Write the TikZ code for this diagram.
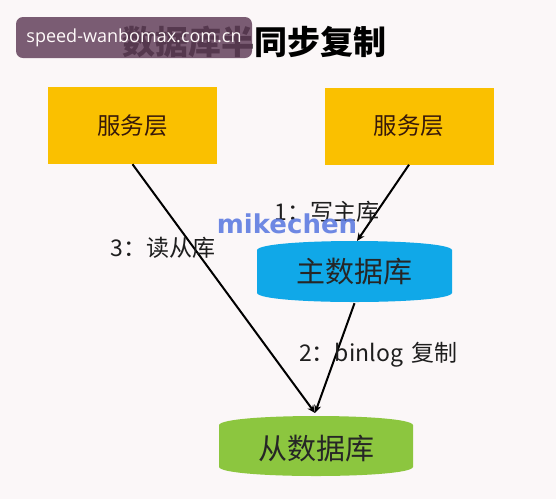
\documentclass[tikz,border=0pt]{standalone}
\usepackage{fontspec}
\usetikzlibrary{arrows.meta}
\newfontfamily\cjk{Noto Sans CJK SC}
\newfontfamily\wmfont{Open Sans}
\newfontfamily\mkfont{DejaVu Sans}
\definecolor{bgc}{RGB}{251,247,248}
\definecolor{gold}{RGB}{250,192,0}
\definecolor{mblue}{RGB}{16,168,232}
\definecolor{sgreen}{RGB}{140,198,63}
\definecolor{wmc}{RGB}{100,66,92}
\definecolor{mkc}{RGB}{95,125,225}
\definecolor{boxtext}{RGB}{55,25,10}
\definecolor{lbltext}{RGB}{30,30,30}
\begin{document}
\begin{tikzpicture}[x=1pt,y=-1pt,
  svc/.style={fill=gold, minimum width=169pt, minimum height=77pt, text=boxtext,
    font=\cjk\fontsize{23.5}{23.5}\selectfont, inner sep=0pt},
  dbtext/.style={minimum width=195pt, minimum height=62pt, inner sep=0pt,
    font=\cjk\fontsize{29}{29}\selectfont, text=black!85},
  lbl/.style={text=lbltext, font=\cjk\fontsize{23}{23}\selectfont, inner sep=0pt},
  arr/.style={-{Stealth[length=8pt,width=7pt]}, line width=2pt, black}]
\fill[bgc] (0,0) rectangle (556,499);
\useasboundingbox (0,0) rectangle (556,499);

% title
\node[font=\cjk\bfseries\fontsize{33}{33}\selectfont, inner sep=0pt] (title) at (254,42) {数据库半同步复制};

% service boxes
\node[svc] (s1) at (132.5,125.5) {服务层};
\node[svc] (s2) at (409,126) {服务层};

% master db shape
\fill[mblue] (257,250) .. controls (260,238) and (449,238) .. (452,250)
  -- (452,293) .. controls (449,305) and (260,305) .. (257,293) -- cycle;
\node[dbtext] (master) at (354.5,272) {主数据库};

% slave db shape
\fill[sgreen] (219,425) .. controls (222,413) and (410,413) .. (413,425)
  -- (413,467) .. controls (410,479) and (222,479) .. (219,467) -- cycle;
\node[dbtext] (slave) at (316,449) {从数据库};

% connectors
\coordinate (tip) at (315,413);
\coordinate (mtop) at (357,241);
\draw[arr] (s1.south) -- (tip);
\draw[arr] (s2.south) -- (mtop);
\draw[arr] (master.south) -- (tip);

% labels
\node[lbl] (l3) at (163,248) {3：读从库};
\node[lbl] (l1) at (327,212) {1：写主库};
\node[lbl, anchor=west] (l2) at (299,355) {2：binlog\hspace{0.35em}复制};

% watermarks
\node[font=\mkfont\bfseries\fontsize{26}{26}\selectfont, text=mkc, text opacity=0.9, inner sep=0pt] (mk) at (287,224) {mikechen};
\node[fill=wmc, fill opacity=0.85, text opacity=1, rounded corners=7pt,
  minimum width=236pt, minimum height=41pt, inner sep=0pt, text=white!92!pink,
  font=\wmfont\fontsize{18}{18}\selectfont] (wm) at (134,37.5) {speed-wanbomax.com.cn};
\end{tikzpicture}
\end{document}
